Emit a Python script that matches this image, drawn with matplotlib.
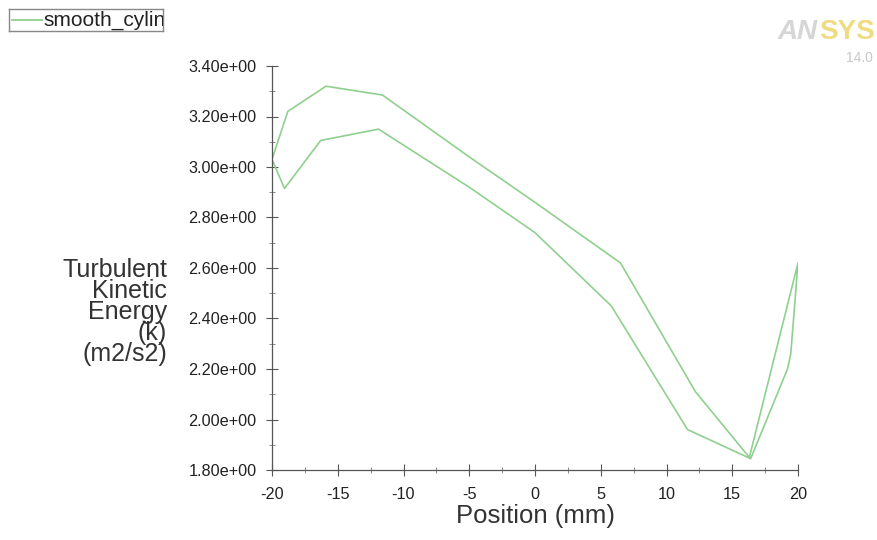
import numpy as np
import matplotlib.pyplot as plt
from matplotlib.ticker import MultipleLocator, FormatStrFormatter

plt.rcParams['font.family'] = ['Liberation Sans', 'DejaVu Sans']
plt.rcParams['axes.unicode_minus'] = False

# upper side of the loop (left to right)
x_upper = [-20.0, -18.8, -15.9, -11.6, -5.0, 0.0, 6.5, 12.2, 16.3]
k_upper = [3.03, 3.22, 3.32, 3.285, 3.04, 2.86, 2.62, 2.11, 1.85]
# right end, going back down
x_right = [20.0, 19.45, 19.2, 16.4]
k_right = [2.62, 2.26, 2.20, 1.845]
# lower side (right to left)
x_lower = [11.6, 5.8, 0.0, -5.0, -11.9, -16.3, -19.05, -20.0]
k_lower = [1.96, 2.45, 2.74, 2.92, 3.15, 3.105, 2.915, 3.03]

x_all = x_upper + x_right + x_lower
k_all = k_upper + k_right + k_lower

line_col = '#8fd08f'

fig = plt.figure(figsize=(8.77, 5.40), dpi=100)
ax = fig.add_axes([272 / 877, 1 - 470 / 540, 526 / 877, 404 / 540])

ax.plot(x_all, k_all, color=line_col, lw=1.2)

ax.set_xlim(-20, 20)
ax.set_ylim(1.80, 3.40)
ax.xaxis.set_major_locator(MultipleLocator(5))
ax.xaxis.set_minor_locator(MultipleLocator(2.5))
ax.yaxis.set_major_locator(MultipleLocator(0.2))
ax.yaxis.set_minor_locator(MultipleLocator(0.1))
ax.yaxis.set_major_formatter(FormatStrFormatter('%.2fe+00'))

for s in ['top', 'right']:
    ax.spines[s].set_visible(False)
for s in ['left', 'bottom']:
    ax.spines[s].set_color('#555555')
    ax.spines[s].set_linewidth(0.9)
ax.tick_params(which='major', direction='inout', length=8, color='#555555',
               labelsize=11.7, labelcolor='#222222')
ax.tick_params(which='minor', direction='inout', length=4, color='#777777')
ax.tick_params(axis='y', which='major', pad=7)
ax.tick_params(axis='x', which='major', pad=8)

ax.set_xlabel('Position (mm)', fontsize=18.5, color='#333333', labelpad=2)

fig.text(167 / 877, 1 - 312 / 540, 'Turbulent\nKinetic\nEnergy\n(k)\n(m2/s2)',
         ha='right', va='center', multialignment='right', fontsize=18,
         color='#333333', linespacing=0.85)

# legend box, clipped like the original
lax = fig.add_axes([9 / 877, 1 - 31 / 540, 154 / 877, 22 / 540])
lax.set_xlim(0, 154)
lax.set_ylim(0, 22)
lax.set_xticks([])
lax.set_yticks([])
for s in lax.spines.values():
    s.set_color('#888888')
    s.set_linewidth(1.0)
lax.plot([3, 33], [11, 11], color=line_col, lw=1.3)
lax.text(34, 10.5, 'smooth_cylinder', fontsize=15, va='center', ha='left',
         color='#222222', clip_on=True)

# ANSYS logo in the corner
fig.text(778 / 877, 1 - 32 / 540, 'AN', fontsize=20, fontweight='bold',
         fontstyle='italic', color='#d6d6d6', va='center', ha='left')
fig.text(875 / 877, 1 - 32 / 540, 'SYS', fontsize=20, fontweight='bold',
         color='#f0dc80', va='center', ha='right')
fig.text(873 / 877, 1 - 58 / 540, '14.0', fontsize=10, color='#c8c8c8',
         va='center', ha='right')

fig.savefig('out.png', dpi=100)
